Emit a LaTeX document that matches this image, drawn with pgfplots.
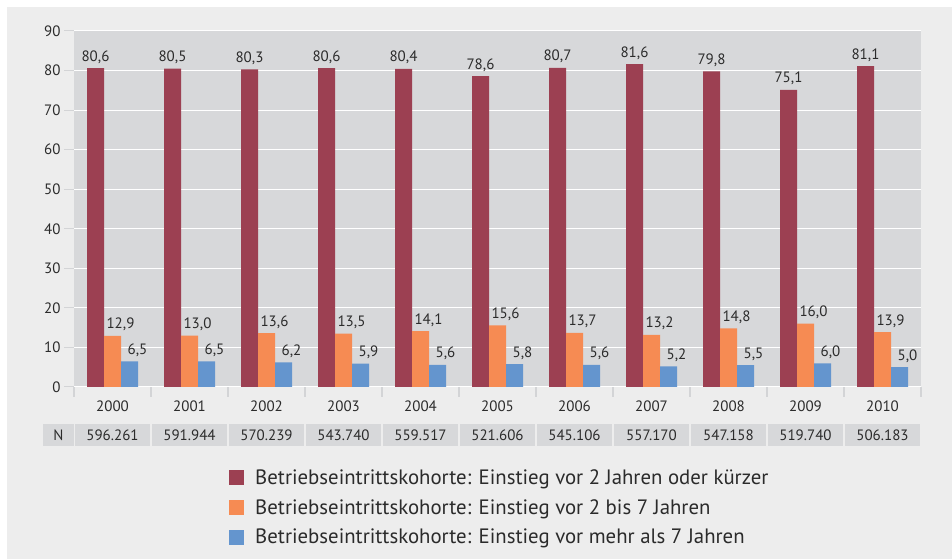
\documentclass[border=0pt]{standalone}
\usepackage{pgfplots}
\pgfplotsset{compat=1.18}
\usepackage{fontspec}
\setmainfont{PT Sans}
\definecolor{maroon}{HTML}{9C4052}
\definecolor{orng}{HTML}{F68B53}
\definecolor{blu}{HTML}{6495CE}
\definecolor{panel}{HTML}{EDEDED}
\definecolor{plotbg}{HTML}{D7D8DA}
\definecolor{txt}{HTML}{2B2B2B}
\definecolor{tickc}{HTML}{D3D4D6}
\newcommand\tickfont{\fontsize{15}{17}\selectfont}
\begin{document}
\begin{tikzpicture}[x=1pt,y=1pt]
\useasboundingbox (0,0) rectangle (952,559);
\fill[white] (0,0) rectangle (952,559);
\fill[panel] (7,0) rectangle (952,552);
\begin{axis}[
  at={(74pt,172pt)}, anchor=south west,
  scale only axis, width=847pt, height=356pt,
  xmin=-0.5, xmax=10.5, ymin=0, ymax=90,
  axis background/.style={fill=plotbg},
  axis line style={draw=none},
  ybar, bar width=17pt,
  ytick={0,10,20,30,40,50,60,70,80,90},
  ymajorgrids, grid style={white, line width=1pt},
  tick align=outside, major tick length=10pt,
  xtick pos=left, ytick pos=left,
  ytick style={draw=tickc, line width=1pt},
  xtick style={draw=tickc, line width=1.5pt},
  xtick={-0.5,0.5,1.5,2.5,3.5,4.5,5.5,6.5,7.5,8.5,9.5,10.5},
  xticklabels={2000,2001,2002,2003,2004,2005,2006,2007,2008,2009,2010,{}},
  xticklabel style={xshift=38.5pt, font=\tickfont, text=txt},
  yticklabel style={font=\tickfont, text=txt},
  /pgf/number format/assume math mode=true,
  clip=false,
  nodes near coords={\pgfmathprintnumber[fixed,fixed zerofill,precision=1,use comma]{\pgfplotspointmeta}},
  every node near coord/.append style={font=\tickfont, text=txt, anchor=base, yshift=7pt},
  legend style={at={(0.1795,-0.22)}, anchor=north west, draw=none, fill=none,
    font=\fontsize{20.8}{24}\selectfont, text=txt, row sep=9.5pt,
    /tikz/every odd column/.append style={column sep=9pt}},
  legend cell align=left,
  legend image code/.code={\fill[#1] (0pt,-7.5pt) rectangle (15pt,7.5pt);},
]
\addplot[fill=maroon, draw=none, bar shift=-17pt] coordinates {
(0,80.6) (1,80.5) (2,80.3) (3,80.6) (4,80.4) (5,78.6) (6,80.7) (7,81.6) (8,79.8) (9,75.1) (10,81.1)};
\addplot[fill=orng, draw=none, bar shift=0pt, every node near coord/.append style={xshift=8pt}] coordinates {
(0,12.9) (1,13.0) (2,13.6) (3,13.5) (4,14.1) (5,15.6) (6,13.7) (7,13.2) (8,14.8) (9,16.0) (10,13.9)};
\addplot[fill=blu, draw=none, bar shift=17pt, every node near coord/.append style={xshift=8pt}] coordinates {
(0,6.5) (1,6.5) (2,6.2) (3,5.9) (4,5.6) (5,5.8) (6,5.6) (7,5.2) (8,5.5) (9,6.0) (10,5.0)};
\legend{Betriebseintrittskohorte: Einstieg vor 2 Jahren oder kürzer,
Betriebseintrittskohorte: Einstieg vor 2 bis 7 Jahren,
Betriebseintrittskohorte: Einstieg vor mehr als 7 Jahren}
\node[fill=plotbg, minimum width=31pt, minimum height=22pt, inner sep=0pt, text=txt, font=\tickfont]
  at ([xshift=-15.5pt,yshift=-48pt]axis cs:-0.5,0) {N};
\foreach \i/\n in {0/596.261,1/591.944,2/570.239,3/543.740,4/559.517,5/521.606,6/545.106,7/557.170,8/547.158,9/519.740,10/506.183}{
  \edef\tmp{\noexpand\node[fill=plotbg, minimum width=75pt, minimum height=22pt, inner sep=0pt, text=txt, font=\noexpand\tickfont] at ([yshift=-48pt]axis cs:\i,0) {\n};}
  \tmp
}
\end{axis}
\end{tikzpicture}
\end{document}
